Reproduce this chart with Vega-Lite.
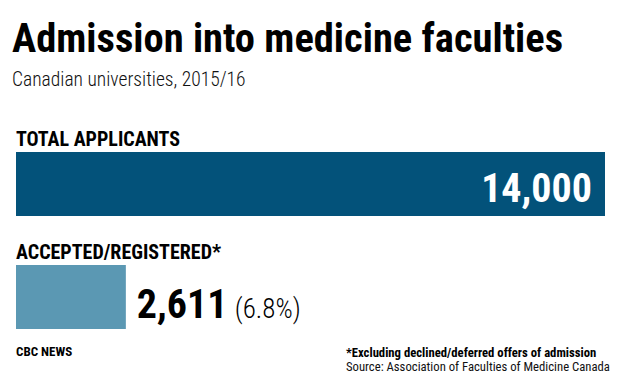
{
  "$schema": "https://vega.github.io/schema/vega-lite/v6.json",
  "width": 620,
  "height": 284,
  "autosize": {"type": "none"},
  "padding": {"left": 0, "top": 100, "right": 0, "bottom": 0},
  "background": "white",
  "config": {"view": {"stroke": null}, "font": "Roboto Condensed"},
  "title": {
    "text": "Admission into medicine faculties",
    "subtitle": "Canadian universities, 2015/16",
    "anchor": "start",
    "frame": "group",
    "dx": 12,
    "offset": 11,
    "font": "Roboto Condensed",
    "fontSize": 40.5,
    "fontWeight": "bold",
    "color": "#000000",
    "subtitleFont": "Roboto Condensed",
    "subtitleFontSize": 19.5,
    "subtitleFontWeight": 300,
    "subtitleColor": "#111111",
    "subtitlePadding": 10
  },
  "data": {
    "values": [
      {"category": "TOTAL APPLICANTS", "value": 14000, "share": ""},
      {"category": "ACCEPTED/REGISTERED*", "value": 2611, "share": "(6.8%)"}
    ]
  },
  "encoding": {
    "y": {
      "field": "category",
      "type": "nominal",
      "sort": null,
      "scale": {"range": [52, 229], "paddingInner": 0.434, "paddingOuter": 0},
      "axis": null
    }
  },
  "layer": [
    {
      "mark": {"type": "bar", "cornerRadius": 0},
      "encoding": {
        "x": {"field": "value", "type": "quantitative", "scale": {"domain": [0, 14000], "range": [16, 605]}, "axis": null},
        "color": {
          "field": "category",
          "type": "nominal",
          "scale": {"domain": ["TOTAL APPLICANTS", "ACCEPTED/REGISTERED*"], "range": ["#03527a", "#5b98b3"]},
          "legend": null
        }
      }
    },
    {
      "mark": {"type": "text", "align": "left", "baseline": "alphabetic", "dy": -38, "fontSize": 20, "fontWeight": "bold", "color": "#000000"},
      "encoding": {
        "x": {"datum": 0, "type": "quantitative"},
        "text": {"field": "category"}
      }
    },
    {
      "transform": [{"filter": "datum.value >= 10000"}],
      "mark": {"type": "text", "align": "right", "baseline": "alphabetic", "dx": -13, "dy": 18, "fontSize": 40, "fontWeight": "bold", "color": "#ffffff"},
      "encoding": {
        "x": {"field": "value", "type": "quantitative"},
        "text": {"field": "value", "format": ","}
      }
    },
    {
      "transform": [{"filter": "datum.value < 10000"}],
      "mark": {"type": "text", "align": "left", "baseline": "alphabetic", "dx": 11, "dy": 21, "fontSize": 40, "fontWeight": "bold", "color": "#000000"},
      "encoding": {
        "x": {"field": "value", "type": "quantitative"},
        "text": {"field": "value", "format": ","}
      }
    },
    {
      "transform": [{"filter": "datum.value < 10000"}],
      "mark": {"type": "text", "align": "left", "baseline": "alphabetic", "dx": 109, "dy": 21, "fontSize": 27, "fontWeight": 300, "color": "#000000"},
      "encoding": {
        "x": {"field": "value", "type": "quantitative"},
        "text": {"field": "share"}
      }
    },
    {
      "transform": [{"filter": "datum.value < 10000"}],
      "mark": {"type": "text", "align": "left", "baseline": "alphabetic", "dy": 59, "fontSize": 13, "fontWeight": "bold", "color": "#000000", "text": "CBC NEWS"},
      "encoding": {
        "x": {"datum": 0, "type": "quantitative"}
      }
    },
    {
      "transform": [{"filter": "datum.value < 10000"}],
      "mark": {"type": "text", "align": "left", "baseline": "alphabetic", "dx": -259, "dy": 60, "fontSize": 12.7, "fontWeight": "bold", "color": "#000000", "text": "*Excluding declined/deferred offers of admission"},
      "encoding": {
        "x": {"datum": 14000, "type": "quantitative"}
      }
    },
    {
      "transform": [{"filter": "datum.value < 10000"}],
      "mark": {"type": "text", "align": "left", "baseline": "alphabetic", "dx": -259, "dy": 74, "fontSize": 12.7, "fontWeight": "normal", "color": "#111111", "text": "Source: Association of Faculties of Medicine Canada"},
      "encoding": {
        "x": {"datum": 14000, "type": "quantitative"}
      }
    }
  ]
}
